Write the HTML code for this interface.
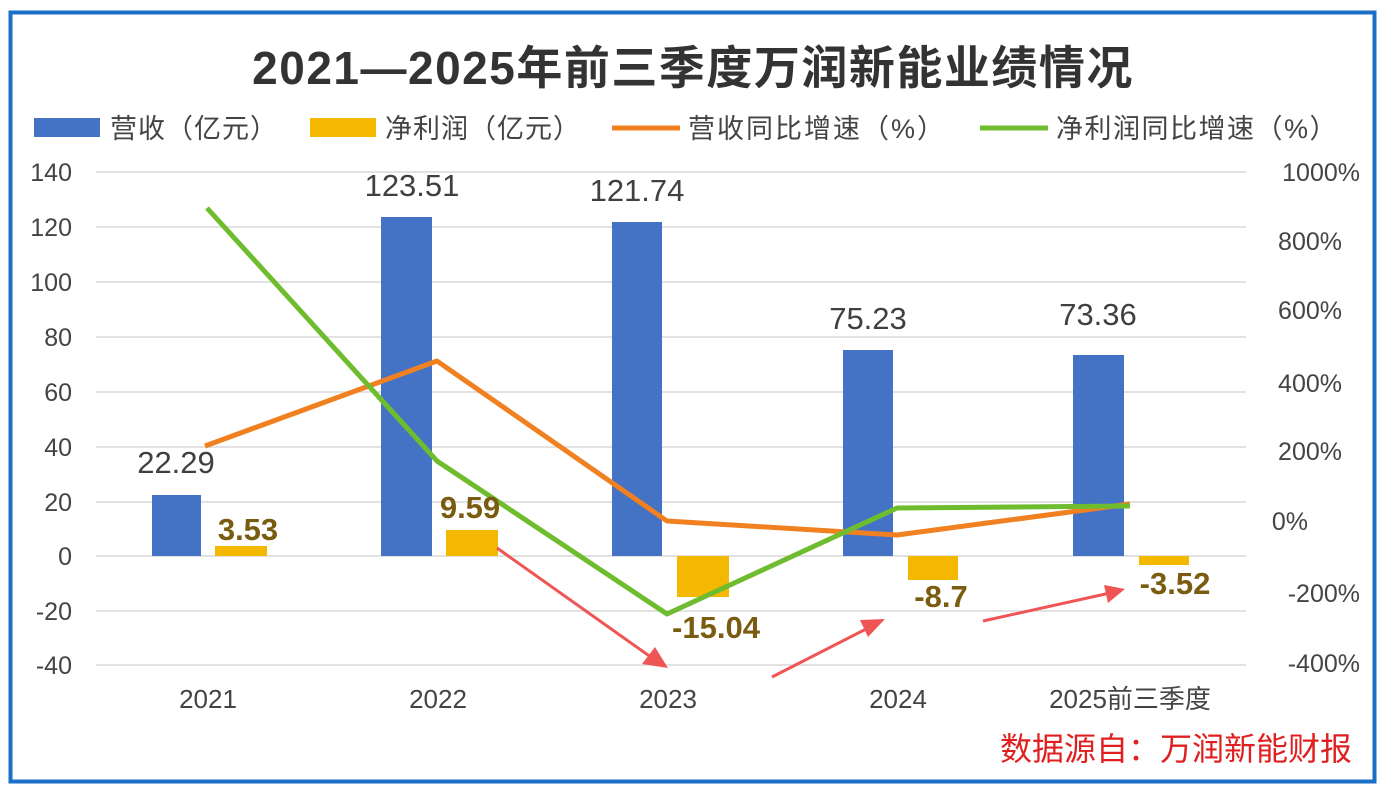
<!DOCTYPE html>
<html><head><meta charset="utf-8"><style>
html,body{margin:0;padding:0;background:#fff;}
svg{display:block;font-family:"Liberation Sans","Noto Sans CJK SC",sans-serif;}
</style></head><body>
<svg width="1386" height="798" viewBox="0 0 1386 798">
<rect x="0" y="0" width="1386" height="798" fill="#fff"/>
<rect x="10.5" y="12.5" width="1364" height="769" fill="none" stroke="#1a6fc9" stroke-width="4"/>
<text x="693" y="84" text-anchor="middle" font-size="46" font-weight="bold" fill="#333" letter-spacing="1.5">2021—2025年前三季度万润新能业绩情况</text>
<!-- legend -->
<rect x="34" y="118" width="66" height="19" fill="#4472c4"/>
<text x="110" y="138" font-size="27" fill="#444" letter-spacing="1">营收（亿元）</text>
<rect x="310" y="118" width="66" height="19" fill="#f5b800"/>
<text x="385" y="138" font-size="27" fill="#444" letter-spacing="1">净利润（亿元）</text>
<line x1="612" y1="128" x2="680" y2="128" stroke="#f08020" stroke-width="5"/>
<text x="688" y="138" font-size="27" fill="#444" letter-spacing="2">营收同比增速（%）</text>
<line x1="980" y1="128" x2="1048" y2="128" stroke="#6fbd2f" stroke-width="5"/>
<text x="1056" y="138" font-size="27" fill="#444" letter-spacing="1.5">净利润同比增速（%）</text>
<!-- grid -->
<g stroke="#d9d9d9" stroke-width="1.5">
<line x1="96" y1="172" x2="1246" y2="172"/>
<line x1="96" y1="227" x2="1246" y2="227"/>
<line x1="96" y1="282" x2="1246" y2="282"/>
<line x1="96" y1="337" x2="1246" y2="337"/>
<line x1="96" y1="392" x2="1246" y2="392"/>
<line x1="96" y1="447" x2="1246" y2="447"/>
<line x1="96" y1="502" x2="1246" y2="502"/>
<line x1="96" y1="556" x2="1246" y2="556"/>
<line x1="96" y1="611" x2="1246" y2="611"/>
<line x1="96" y1="665" x2="1246" y2="665"/>
</g>
<g font-size="25" fill="#444" text-anchor="end">
<text x="72" y="181">140</text><text x="72" y="236">120</text><text x="72" y="291">100</text>
<text x="72" y="346">80</text><text x="72" y="401">60</text><text x="72" y="456">40</text>
<text x="72" y="511">20</text><text x="72" y="565">0</text><text x="72" y="620">-20</text><text x="72" y="674">-40</text>
</g>
<g font-size="25" fill="#444" text-anchor="end">
<text x="1360" y="181">1000%</text><text x="1342" y="250">800%</text><text x="1342" y="319">600%</text>
<text x="1342" y="392">400%</text><text x="1342" y="460">200%</text><text x="1308" y="530">0%</text>
<text x="1360" y="602">-200%</text><text x="1360" y="672">-400%</text>
</g>
<!-- bars -->
<g fill="#4472c4">
<rect x="152" y="495" width="49" height="61"/>
<rect x="381" y="217" width="51" height="339"/>
<rect x="612" y="222" width="50" height="334"/>
<rect x="843" y="350" width="50" height="206"/>
<rect x="1073" y="355" width="51" height="201"/>
</g>
<g fill="#f5b800">
<rect x="215" y="546" width="52" height="10"/>
<rect x="446" y="530" width="52" height="26"/>
<rect x="677" y="556" width="52" height="41"/>
<rect x="908" y="556" width="50" height="24"/>
<rect x="1139" y="556" width="50" height="9"/>
</g>
<!-- lines -->
<polyline points="205,446 437,361 667,521 897,535 1130,504" fill="none" stroke="#f08020" stroke-width="5" stroke-linejoin="round"/>
<polyline points="207,208 437,461 667,614 897,508 1130,506" fill="none" stroke="#6fbd2f" stroke-width="5" stroke-linejoin="round"/>
<!-- labels -->
<g font-size="31" fill="#404040" text-anchor="middle">
<text x="176" y="473">22.29</text>
<text x="412" y="196">123.51</text>
<text x="637" y="201">121.74</text>
<text x="868" y="329">75.23</text>
<text x="1098" y="325">73.36</text>
</g>
<g font-size="31" font-weight="bold" fill="#7a5c10" text-anchor="middle">
<text x="248" y="540">3.53</text>
<text x="470" y="518">9.59</text>
<text x="716" y="638">-15.04</text>
<text x="941" y="607">-8.7</text>
<text x="1175" y="594">-3.52</text>
</g>
<!-- arrows -->
<g stroke="#f05555" stroke-width="3" fill="#f05555">
<line x1="497" y1="548" x2="655" y2="660"/>
<polygon points="668,668 642,664 655,647" stroke="none"/>
<line x1="772" y1="677" x2="872" y2="626"/>
<polygon points="885,619 868,637 860,620" stroke="none"/>
<line x1="983" y1="621" x2="1110" y2="593"/>
<polygon points="1125,589 1108,603 1104,585" stroke="none"/>
</g>
<!-- x labels -->
<g font-size="26" fill="#444" text-anchor="middle">
<text x="208" y="708">2021</text>
<text x="438" y="708">2022</text>
<text x="668" y="708">2023</text>
<text x="898" y="708">2024</text>
<text x="1130" y="708">2025前三季度</text>
</g>
<text x="1352" y="760" text-anchor="end" font-size="32" fill="#e02020">数据源自：万润新能财报</text>
</svg>
</body></html>
